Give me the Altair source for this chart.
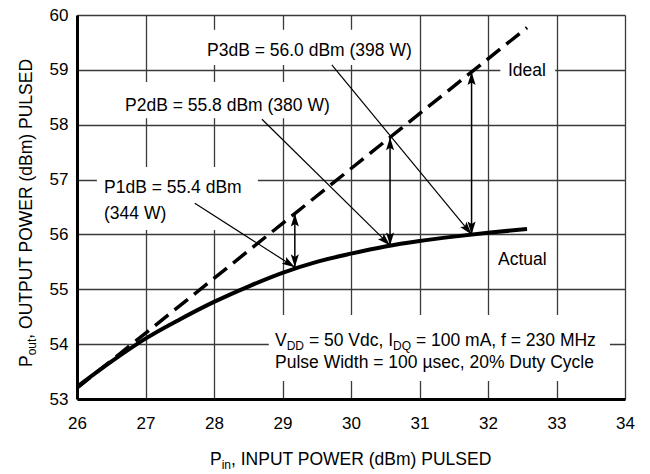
import math
import altair as alt
import pandas as pd

# ---------------- data ----------------
actual_pin = [26.0, 26.5, 27.0, 27.5, 28.0, 28.5, 29.0, 29.5, 30.0, 30.5, 31.0, 31.5, 32.0, 32.57]
actual_pout = [53.22, 53.68, 54.10, 54.45, 54.77, 55.05, 55.30, 55.50, 55.65, 55.78, 55.88, 55.96, 56.03, 56.10]
ideal_pin = [26.0, 32.57]
ideal_pout = [53.20, 59.77]

comp_label = ["P1dB", "P2dB", "P3dB"]
comp_pin = [29.18, 30.57, 31.76]
comp_actual = [55.40, 55.80, 56.00]
comp_ideal = [56.38, 57.77, 58.96]

x_ticks = [26, 27, 28, 29, 30, 31, 32, 33, 34]
y_ticks = [53, 54, 55, 56, 57, 58, 59, 60]

label_texts = ["P3dB = 56.0 dBm (398 W)", "P2dB = 55.8 dBm (380 W)", "P1dB = 55.4 dBm",
               "(344 W)", "Ideal", "Actual", "Pulse Width = 100 \u00b5sec, 20% Duty Cycle"]

# ---------------- layout (annotation placement, in data units) ----------------
label_x = [27.898, 26.701, 26.394, 26.394, 32.292, 32.146, 28.891]
label_y = [59.253, 58.241, 56.755, 56.281, 58.888, 55.443, 53.565]
leader_x = [27.72, 28.70, 29.72]
leader_y = [56.57, 58.10, 59.09]
box_x = [27.80, 26.60, 26.29, 32.18, 28.80]
box_x2 = [30.98, 29.72, 28.64, 32.98, 33.78]
box_y = [59.09, 58.12, 56.08, 58.82, 53.33]
box_y2 = [59.73, 58.78, 57.23, 59.18, 54.53]

W, H = 548, 384
XD = [26, 34]
YD = [53, 60]
KX = W / (XD[1] - XD[0])
KY = H / (YD[1] - YD[0])

FONT = "Liberation Sans, Arial, Helvetica, sans-serif"
TICKFONT = "Liberation Sans, Arial, Helvetica, sans-serif"
FS = 17.5
SUB = 12

AW = {' ': 278, ',': 278, '(': 333, ')': 333, '=': 584, '.': 278, '%': 889,
      'A': 667, 'B': 667, 'C': 722, 'D': 722, 'E': 667, 'H': 722, 'I': 278, 'L': 556,
      'M': 833, 'N': 722, 'O': 778, 'P': 667, 'Q': 778, 'R': 722, 'S': 667, 'T': 611,
      'U': 722, 'V': 667, 'W': 944, 'a': 556, 'c': 500, 'd': 556, 'e': 556, 'f': 278,
      'i': 222, 'l': 222, 'm': 833, 'n': 556, 'o': 556, 's': 500, 't': 278, 'u': 556,
      'y': 500, 'z': 500, 'h': 556}


def text_w(s, fs):
    return sum(AW.get(ch, 556) for ch in s) / 1000.0 * fs


def hchain(x0, y0, parts):
    rows, off = [], 0.0
    for txt, fs, drop in parts:
        lead = len(txt) - len(txt.lstrip())
        o = off + text_w(txt[:lead], fs)
        rows.append({"x": x0 + o / KX, "y": y0 - drop / KY, "text": txt.lstrip(), "fs": fs})
        off += text_w(txt, fs)
    return rows


def vchain(x0, y0, parts):
    rows, off = [], 0.0
    for txt, fs, drop in parts:
        lead = len(txt) - len(txt.lstrip())
        o = off + text_w(txt[:lead], fs)
        rows.append({"x": x0 + drop / KX, "y": y0 + o / KY, "text": txt.lstrip(), "fs": fs})
        off += text_w(txt, fs)
    return rows


xs = alt.Scale(domain=XD, nice=False, zero=False)
ys = alt.Scale(domain=YD, nice=False, zero=False)
xaxis = alt.Axis(values=x_ticks, grid=True, gridColor="#3a3a3a", gridWidth=1.3,
                 domainColor="black", domainWidth=3, ticks=False, tickSize=0,
                 labelFont=TICKFONT, labelFontSize=17, labelColor="black",
                 labelPadding=16, labelFlush=False, title=None)
yaxis = alt.Axis(values=y_ticks, grid=True, gridColor="#3a3a3a", gridWidth=1.3,
                 domainColor="black", domainWidth=3, ticks=False, tickSize=0,
                 labelFont=TICKFONT, labelFontSize=17, labelColor="black",
                 labelPadding=9, labelFlush=False, title=None)


def X(f="x"):
    return alt.X(f"{f}:Q", scale=xs, axis=xaxis, title=None)


def Y(f="y"):
    return alt.Y(f"{f}:Q", scale=ys, axis=yaxis, title=None)


# white label backgrounds
boxes = pd.DataFrame({"x": box_x, "x2": box_x2, "y": box_y, "y2": box_y2})
box_layer = alt.Chart(boxes).mark_rect(fill="white").encode(
    x=X(), x2="x2:Q", y=Y(), y2="y2:Q")

actual_df = pd.DataFrame({"x": actual_pin, "y": actual_pout})
actual_layer = alt.Chart(actual_df).mark_line(color="black", strokeWidth=4,
                                              interpolate="monotone").encode(x=X(), y=Y())

ideal_df = pd.DataFrame({"x": ideal_pin, "y": ideal_pout})
ideal_layer = alt.Chart(ideal_df).mark_line(color="black", strokeWidth=3.5,
                                            strokeDash=[17, 8], strokeCap="butt").encode(x=X(), y=Y())

comp_df = pd.DataFrame({"x": comp_pin, "y": comp_actual, "y2": comp_ideal, "name": comp_label})
vrule_layer = alt.Chart(comp_df).mark_rule(color="black", strokeWidth=1.5).encode(
    x=X(), y=Y(), y2="y2:Q")

lead_df = pd.DataFrame({"x": leader_x, "y": leader_y, "x2": comp_pin, "y2": comp_actual})
lead_layer = alt.Chart(lead_df).mark_rule(color="black", strokeWidth=1.2).encode(
    x=X(), y=Y(), x2="x2:Q", y2="y2:Q")

# arrow heads
heads = []
for i in range(3):
    heads.append({"x": comp_pin[i], "y": comp_ideal[i], "ang": 0.0})
    heads.append({"x": comp_pin[i], "y": comp_actual[i], "ang": 180.0})
    dxp = (comp_pin[i] - leader_x[i]) * KX
    dyp = (leader_y[i] - comp_actual[i]) * KY
    ang = math.degrees(math.atan2(dxp, -dyp)) % 360
    heads.append({"x": comp_pin[i], "y": comp_actual[i], "ang": ang})
heads_df = pd.DataFrame(heads)
ARROW = "M0,0L-0.62,2L0,1.6L0.62,2Z"
head_layer = alt.Chart(heads_df).mark_point(shape=ARROW, filled=True, color="black",
                                            size=169, opacity=1, strokeWidth=0).encode(
    x=X(), y=Y(), angle=alt.Angle("ang:Q", scale=None))

# plain labels
lab_df = pd.DataFrame({"x": label_x, "y": label_y, "text": label_texts})
lab_layer = alt.Chart(lab_df).mark_text(font=FONT, fontSize=FS, align="left",
                                        baseline="alphabetic", color="black").encode(
    x=X(), y=Y(), text="text:N")

# labels with subscripts (conditions line, x title)
sub_rows = []
sub_rows += hchain(28.891, 53.975, [("V", FS, 0), ("DD", SUB, 4), (" = 50 Vdc, I", FS, 0),
                                   ("DQ", SUB, 4), (" = 100 mA, f = 230 MHz", FS, 0)])
sub_rows += hchain(26 + (210 - 77) / KX, 60 - (465 - 15) / KY,
                   [("P", FS, 0), ("in", SUB, 4), (", INPUT POWER (dBm) PULSED", FS, 0)])
sub_df = pd.DataFrame(sub_rows)
sub_layer = alt.Chart(sub_df).mark_text(font=FONT, align="left", baseline="alphabetic",
                                        color="black").encode(
    x=X(), y=Y(), text="text:N", size=alt.Size("fs:Q", scale=None))

vt_rows = vchain(26 + (32 - 77) / KX, 60 - (367 - 15) / KY,
                 [("P", FS, 0), ("out", SUB, 4), (", OUTPUT POWER (dBm) PULSED", FS, 0)])
vt_df = pd.DataFrame(vt_rows)
vt_layer = alt.Chart(vt_df).mark_text(font=FONT, align="left", baseline="alphabetic",
                                      color="black", angle=270).encode(
    x=X(), y=Y(), text="text:N", size=alt.Size("fs:Q", scale=None))

chart = alt.layer(box_layer, actual_layer, ideal_layer, vrule_layer, lead_layer,
                  head_layer, lab_layer, sub_layer, vt_layer).properties(
    width=W, height=H,
    autosize=alt.AutoSizeParams(type="none"),
    padding={"left": 69, "top": 7, "right": 17, "bottom": 74},
).configure_view(stroke=None)

chart.save("out.html", embed_options={"renderer": "svg", "actions": False})
